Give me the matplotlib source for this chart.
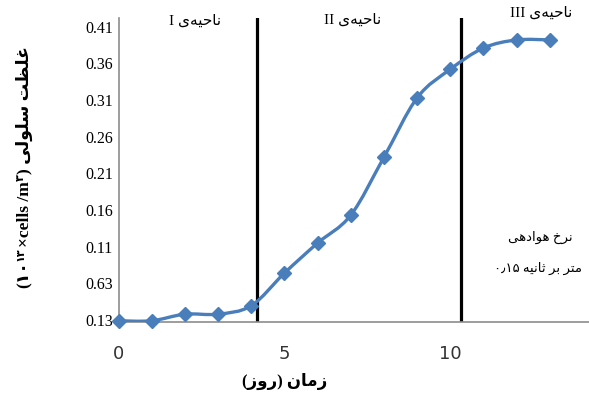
import numpy as np
import matplotlib
matplotlib.use('Agg')
import matplotlib.pyplot as plt
from matplotlib.path import Path
from matplotlib.patches import PathPatch
from matplotlib.transforms import IdentityTransform

# %% Data
days = np.arange(14)
conc = [0.009, 0.009, 0.018, 0.018, 0.0295, 0.074, 0.115, 0.153, 0.232,
        0.313, 0.352, 0.381, 0.392, 0.392]
ytick_pos = [0.01, 0.06, 0.11, 0.16, 0.21, 0.26, 0.31, 0.36, 0.41]
ytick_lbl = ['0.13', '0.63', '0.11', '0.16', '0.21', '0.26', '0.31', '0.36',
             '0.41']
xtick_pos = [0, 5, 10]
region_bounds = [4.17, 10.32]
region_names = ['I', 'II', 'III']
region_x = [2.3, 7.05, 12.75]
region_y = [0.417, 0.419, 0.428]

# %% Minimal Arabic shaping (presentation forms, then visual order)
# (isolated, final, initial, medial); right-joining letters have no ini/med
FORMS = {
    'ا': ('\uFE8D', '\uFE8E', None, None),
    'ب': ('\uFE8F', '\uFE90', '\uFE91', '\uFE92'),
    'ت': ('\uFE95', '\uFE96', '\uFE97', '\uFE98'),
    'ث': ('\uFE99', '\uFE9A', '\uFE9B', '\uFE9C'),
    'ح': ('\uFEA1', '\uFEA2', '\uFEA3', '\uFEA4'),
    'خ': ('\uFEA5', '\uFEA6', '\uFEA7', '\uFEA8'),
    'د': ('\uFEA9', '\uFEAA', None, None),
    'ر': ('\uFEAD', '\uFEAE', None, None),
    'ز': ('\uFEAF', '\uFEB0', None, None),
    'س': ('\uFEB1', '\uFEB2', '\uFEB3', '\uFEB4'),
    'ظ': ('\uFEC5', '\uFEC6', '\uFEC7', '\uFEC8'),
    'غ': ('\uFECD', '\uFECE', '\uFECF', '\uFED0'),
    'ل': ('\uFEDD', '\uFEDE', '\uFEDF', '\uFEE0'),
    'م': ('\uFEE1', '\uFEE2', '\uFEE3', '\uFEE4'),
    'ن': ('\uFEE5', '\uFEE6', '\uFEE7', '\uFEE8'),
    'ه': ('\uFEE9', '\uFEEA', '\uFEEB', '\uFEEC'),
    'و': ('\uFEED', '\uFEEE', None, None),
    'ی': ('\uFEEF', '\uFEF0', '\uFEF3', '\uFEF4'),
}


def shape(text):
    out = []
    for i, c in enumerate(text):
        if c not in FORMS:
            if c != '\u200c':
                out.append(c)
            continue
        prev = text[i - 1] if i > 0 else None
        nxt = text[i + 1] if i + 1 < len(text) else None
        j_prev = prev in FORMS and FORMS[prev][2] is not None
        j_next = nxt in FORMS and FORMS[c][2] is not None
        iso, fin, ini, med = FORMS[c]
        if j_prev and j_next:
            out.append(med)
        elif j_prev:
            out.append(fin)
        elif j_next:
            out.append(ini)
        else:
            out.append(iso)
    return ''.join(out)


def rtl(text):
    s = shape(text)[::-1]
    return s.translate(str.maketrans('()', ')('))


region_word = rtl('ناحیه\u200cی')

# %% Plot
serif = ['Liberation Serif', 'DejaVu Sans']
fig = plt.figure(figsize=(5.89, 3.94), dpi=100)
ax = fig.add_axes([118.5 / 589, 71.7 / 394, 1 - 118.5 / 589, (322.3 - 18) / 394])

# smooth curve through the points (Catmull-Rom as cubic Bezier segments)
pts = np.column_stack([days, conc]).astype(float)
verts = [pts[0]]
codes = [Path.MOVETO]
for i in range(len(pts) - 1):
    p0 = pts[max(i - 1, 0)]
    p1, p2 = pts[i], pts[i + 1]
    p3 = pts[min(i + 2, len(pts) - 1)]
    verts += [p1 + (p2 - p0) / 6, p2 - (p3 - p1) / 6, p2]
    codes += [Path.CURVE4] * 3
ax.add_patch(PathPatch(Path(verts, codes), fill=False, ec='#4a7ebb', lw=2.4,
                       zorder=3))
ax.plot(days, conc, ls='none', marker='D', ms=7, color='#4a7ebb', zorder=4,
        clip_on=False)

for xb in region_bounds:
    ax.axvline(xb, color='black', lw=2.3, zorder=2)

ax.set_xlim(0, 14.18)
ax.set_ylim(0.0069, 0.4219)
ax.set_xticks(xtick_pos)
ax.set_xticklabels([str(v) for v in xtick_pos], fontsize=13,
                   color='#333333', family='DejaVu Sans')
ax.set_yticks(ytick_pos)
ax.set_yticklabels(ytick_lbl, fontsize=11.5, family='Liberation Serif')
ax.tick_params(axis='x', length=0, pad=16)
ax.tick_params(axis='y', length=0, pad=4)
for side in ['top', 'right']:
    ax.spines[side].set_visible(False)
for side in ['left', 'bottom']:
    ax.spines[side].set_color('#8c8c8c')
    ax.spines[side].set_linewidth(1.2)

for name, xr, yr in zip(region_names, region_x, region_y):
    ax.text(xr, yr, name + ' ' + region_word, ha='center', va='center',
            fontsize=11, family=serif, clip_on=False)

ax.text(12.7, 0.122, rtl('نرخ هوادهی'), ha='center', va='center',
        fontsize=9.5, family=serif)
ax.text(12.65, 0.081, '۰٫۱۵ ' + rtl('متر بر ثانیه'), ha='center',
        va='center', fontsize=9.5, family=serif)

fig.text(285 / 589, (394 - 381) / 394, rtl('زمان (روز)'), ha='center',
         va='center', fontsize=12, fontweight='bold', family=serif)

# y label: pieces laid out bottom-to-top, superscripts raised
pieces = [('(۱۰', 12.5, 0), ('۱۳', 8, 5.5), ('×cells /m', 12.5, 0),
          ('۳', 8, 5.5), (') ' + rtl('غلظت سلولی'), 12.5, 0)]
renderer = fig.canvas.get_renderer()
items = []
total = 0
for s, fs, rise in pieces:
    t = fig.text(0, 0, s, rotation=90, rotation_mode='anchor', ha='left',
                 va='baseline', fontsize=fs, fontweight='bold', family=serif,
                 transform=IdentityTransform())
    h = t.get_window_extent(renderer).height
    items.append((t, h, rise))
    total += h
y0 = (394 - 167) - total / 2
base_x = 29
for t, h, rise in items:
    t.set_position((base_x - rise, y0))
    y0 += h

fig.savefig('out.png', dpi=100)
